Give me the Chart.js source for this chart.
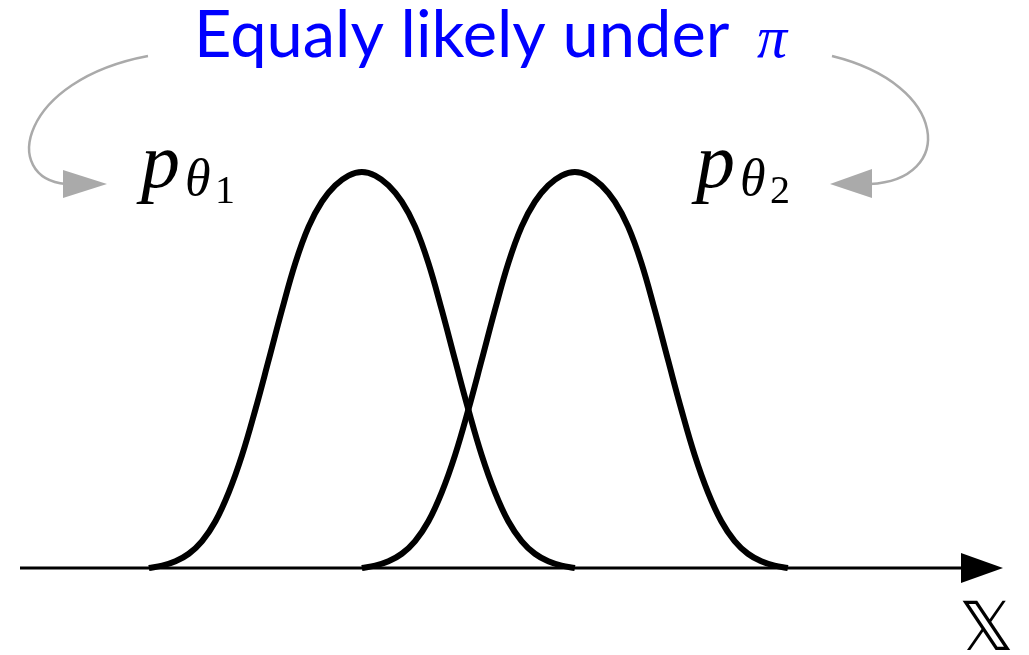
<!DOCTYPE html>
<html>
<head>
<meta charset="utf-8">
<script src="https://cdn.jsdelivr.net/npm/chart.js@4.4.1/dist/chart.umd.min.js"></script>
<style>
  html, body { margin: 0; padding: 0; background: #fff; }
  #wrap { width: 1029px; height: 655px; position: relative; }
</style>
</head>
<body>
<div id="wrap"><canvas id="myChart"></canvas></div>
<script>
// offsets from each mode and the bump height there (peak = 1)
var offsets = [-2, -1.875, -1.75, -1.625, -1.5, -1.375, -1.25, -1.125, -1, -0.875, -0.75, -0.625, -0.5, -0.375, -0.25, -0.125,
               0, 0.125, 0.25, 0.375, 0.5, 0.625, 0.75, 0.875, 1, 1.125, 1.25, 1.375, 1.5, 1.625, 1.75, 1.875, 2];
var density = [0, 0.006, 0.017, 0.036, 0.068, 0.118, 0.191, 0.285, 0.4, 0.525, 0.652, 0.77, 0.862, 0.925, 0.966, 0.991,
               1, 0.991, 0.966, 0.925, 0.862, 0.77, 0.652, 0.525, 0.4, 0.285, 0.191, 0.118, 0.068, 0.036, 0.017, 0.006, 0];
var modes = [0, 2];
var subLabels = ["1", "2"];
var titleText = "Equaly likely under";
var xMin = -3.21, xMax = 6.02;

function bump(mode) {
  return offsets.map(function (d, i) { return { x: mode + d, y: density[i] }; });
}

var datasets = modes.map(function (m) {
  return {
    data: bump(m),
    borderColor: "#000",
    borderWidth: 6,
    pointRadius: 0,
    tension: 0.4,
    clip: false
  };
});

function triangle(ctx, tip, b1, b2, color) {
  ctx.beginPath();
  ctx.moveTo(tip[0], tip[1]);
  ctx.lineTo(b1[0], b1[1]);
  ctx.lineTo(b2[0], b2[1]);
  ctx.closePath();
  ctx.fillStyle = color;
  ctx.fill();
}

function pLabel(ctx, x, sub) {
  ctx.fillStyle = "#000";
  ctx.textBaseline = "alphabetic";
  ctx.font = "italic 78px 'Liberation Serif'";
  ctx.fillText("p", x - 4, 187);
  ctx.font = "italic 52px 'Liberation Serif'";
  ctx.fillText("θ", x + 40, 195);
  ctx.font = "40px 'Liberation Serif'";
  ctx.fillText(sub, x + 70, 203);
}

var decor = {
  id: "decor",
  afterDatasetsDraw: function (chart) {
    var ctx = chart.ctx, area = chart.chartArea;
    var y0 = chart.scales.y.getPixelForValue(0);
    ctx.save();

    // x axis with arrow
    ctx.strokeStyle = "#000";
    ctx.lineWidth = 3;
    ctx.beginPath();
    ctx.moveTo(area.left, y0);
    ctx.lineTo(area.right - 40, y0);
    ctx.stroke();
    triangle(ctx, [area.right, y0], [area.right - 42, y0 - 15], [area.right - 42, y0 + 15], "#000");

    ctx.fillStyle = "#000";
    ctx.font = "68px 'DejaVu Sans'";
    ctx.textAlign = "left";
    ctx.fillText("𝕏", 959, 650);

    // title
    ctx.fillStyle = "#0000ff";
    ctx.font = "65px Lato";
    ctx.fillText(titleText, 194, 57);
    ctx.font = "italic 60px 'Liberation Serif'";
    ctx.fillText("π", 757, 57);

    // grey arrows from the title down to the densities
    ctx.strokeStyle = "#aaaaaa";
    ctx.lineWidth = 2.5;
    ctx.beginPath();
    ctx.moveTo(148, 56);
    ctx.bezierCurveTo(20, 80, 0, 178, 66, 184);
    ctx.stroke();
    triangle(ctx, [107, 184], [63, 170], [63, 198], "#aaaaaa");

    ctx.beginPath();
    ctx.moveTo(832, 56);
    ctx.bezierCurveTo(950, 85, 955, 180, 870, 184);
    ctx.stroke();
    triangle(ctx, [830, 184], [872, 169], [872, 198], "#aaaaaa");

    pLabel(ctx, 145, subLabels[0]);
    pLabel(ctx, 700, subLabels[1]);
    ctx.restore();
  }
};

new Chart("myChart", {
  type: "scatter",
  data: { datasets: datasets },
  options: {
    responsive: true,
    maintainAspectRatio: false,
    animation: false,
    showLine: true,
    layout: { padding: { left: 20, right: 26, top: 172, bottom: 87 } },
    plugins: { legend: { display: false }, tooltip: { enabled: false } },
    scales: {
      x: { type: "linear", min: xMin, max: xMax, display: false },
      y: { min: 0, max: 1, display: false }
    }
  },
  plugins: [decor]
});
</script>
</body>
</html>
